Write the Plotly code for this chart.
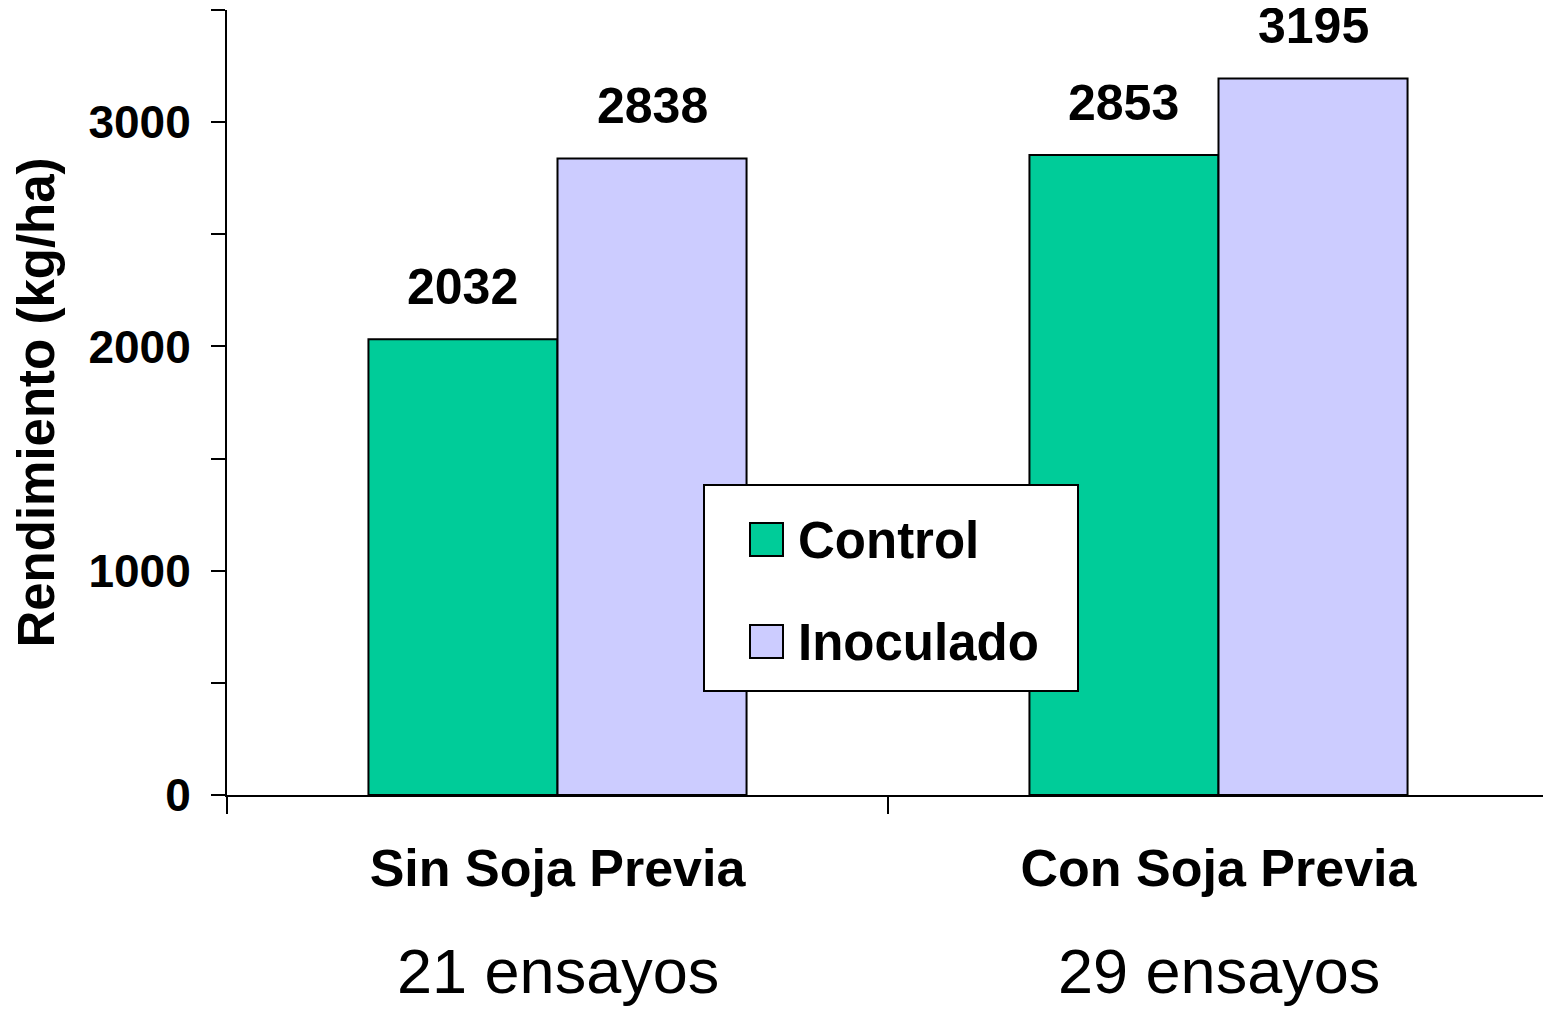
import plotly.graph_objects as go

categories = ["Sin Soja Previa", "Con Soja Previa"]
ensayos = ["21 ensayos", "29 ensayos"]
series_names = ["Control", "Inoculado"]
control = [2032, 2853]
inoculado = [2838, 3195]
series_values = [control, inoculado]
colors = ["#00CC99", "#CCCCFF"]
y_tickvals = [0, 500, 1000, 1500, 2000, 2500, 3000, 3500]
y_ticktext = ["0", "", "1000", "", "2000", "", "3000", ""]
y_title = "Rendimiento (kg/ha)"

FONT = "Liberation Sans, Arial, sans-serif"

fig = go.Figure()
for name, vals, col in zip(series_names, series_values, colors):
    fig.add_trace(go.Bar(
        x=categories, y=vals, name=name,
        marker=dict(color=col, line=dict(color="#000000", width=2)),
        showlegend=False,
    ))

# page body has an 8px margin; compensate
OFF = 8
W, H = 1551 - OFF, 1009 - OFF
ml, mr, mt, mb = 227 - OFF, 2, 10 - OFF, 214
plot_w = W - ml - mr
plot_h = H - mt - mb
bargap = 0.428
cat_w = plot_w / len(categories)
bar_w = cat_w * (1 - bargap) / len(series_names)

# helpers in screenshot pixel coordinates
def px_to_paper_x(px):
    return (px - OFF - ml) / plot_w

def px_to_paper_y(py):
    return (mt + plot_h - (py - OFF)) / plot_h

annotations = []
# value labels
for si, vals in enumerate(series_values):
    offset = (si - (len(series_names) - 1) / 2) * bar_w
    for cat, v in zip(categories, vals):
        annotations.append(dict(
            x=cat, y=v, xref="x", yref="y", text=f"<b>{v}</b>",
            showarrow=False, xshift=offset, yshift=52,
            yanchor="middle", xanchor="center",
            font=dict(family=FONT, size=50, color="#000000"),
        ))
# ensayos labels
for cat, e in zip(categories, ensayos):
    annotations.append(dict(
        x=cat, y=px_to_paper_y(971), xref="x", yref="paper", text=e,
        showarrow=False, yanchor="middle", xanchor="center",
        font=dict(family=FONT, size=63, color="#000000"),
    ))

shapes = [dict(
    type="rect", xref="paper", yref="paper",
    x0=px_to_paper_x(704), x1=px_to_paper_x(1078),
    y0=px_to_paper_y(691), y1=px_to_paper_y(485),
    line=dict(color="#000000", width=2), fillcolor="#FFFFFF", layer="above",
)]
leg_rows = [(523, 556, 540), (625, 658, 642)]
for (top, bot, mid), name, col in zip(leg_rows, series_names, colors):
    shapes.append(dict(
        type="rect", xref="paper", yref="paper",
        x0=px_to_paper_x(750), x1=px_to_paper_x(783),
        y0=px_to_paper_y(bot), y1=px_to_paper_y(top),
        line=dict(color="#000000", width=2), fillcolor=col, layer="above",
    ))
    annotations.append(dict(
        x=px_to_paper_x(796), y=px_to_paper_y(mid), xref="paper", yref="paper",
        text=f"<b>{name}</b>", showarrow=False, xanchor="left", yanchor="middle",
        font=dict(family=FONT, size=51, color="#000000"),
    ))

fig.update_layout(
    width=W, height=H,
    margin=dict(l=ml, r=mr, t=mt, b=mb, autoexpand=False),
    paper_bgcolor="#FFFFFF", plot_bgcolor="#FFFFFF",
    barmode="group", bargap=bargap, bargroupgap=0,
    font=dict(family=FONT, color="#000000"),
    shapes=shapes, annotations=annotations,
)
fig.update_xaxes(
    tickson="boundaries", ticks="outside", ticklen=17, tickwidth=2, tickcolor="#000000",
    showline=True, linecolor="#000000", linewidth=2, showgrid=False,
    tickfont=dict(family=FONT, size=52, color="#000000"),
    tickvals=categories, ticktext=[f"<b>{c}</b>" for c in categories],
    ticklabelstandoff=27,
)
fig.update_yaxes(
    range=[0, 3500], tickvals=y_tickvals, ticktext=[f"<b>{t}</b>" if t else "" for t in y_ticktext],
    ticks="outside", ticklen=14, tickwidth=2, tickcolor="#000000",
    showline=True, linecolor="#000000", linewidth=2, showgrid=False, zeroline=False,
    tickfont=dict(family=FONT, size=46, color="#000000"),
    ticklabelstandoff=11,
    title=dict(text=f"<b>{y_title}</b>", font=dict(family=FONT, size=51, color="#000000"), standoff=20),
)

fig.write_html("out.html")
